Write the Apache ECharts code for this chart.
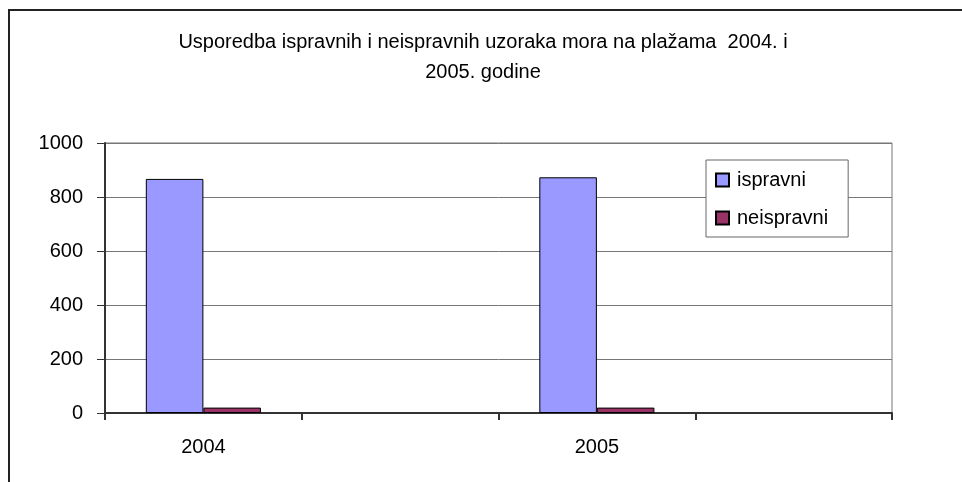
<!DOCTYPE html>
<html>
<head>
<meta charset="utf-8">
<script src="https://cdn.jsdelivr.net/npm/echarts@6/dist/echarts.min.js"></script>
<style>
  html, body { margin: 0; padding: 0; background: #fff; }
  #chart { width: 962px; height: 482px; }
</style>
</head>
<body>
<div id="chart"></div>
<script>
// podaci
var categories = ['2004', '', '2005', ''];
var ispravni = [867, '-', 873, '-'];
var neispravni = [20, '-', 20, '-'];
var yTicks = [0, 200, 400, 600, 800, 1000];

var font = 'Liberation Sans, Arial, sans-serif';
var chart = echarts.init(document.getElementById('chart'));

var option = {
  animation: false,
  backgroundColor: '#fff',
  title: {
    text: 'Usporedba ispravnih i neispravnih uzoraka mora na plažama  2004. i\n2005. godine',
    left: 478,
    textAlign: 'center',
    top: 22,
    textStyle: { fontFamily: font, fontSize: 20, fontWeight: 'normal', color: '#000', lineHeight: 30 }
  },
  legend: {
    orient: 'vertical',
    left: 706,
    top: 160,
    padding: [10, 20, 9, 9],
    backgroundColor: '#fff',
    borderColor: '#666',
    borderWidth: 1,
    borderRadius: 0,
    itemWidth: 13,
    itemHeight: 13,
    itemGap: 18,
    icon: 'rect',
    textStyle: { fontFamily: font, fontSize: 20, color: '#000', padding: [0, 0, 0, 3] },
    data: ['ispravni', 'neispravni']
  },
  grid: {
    left: 105, right: 70, top: 143, bottom: 69,
    show: true, borderColor: '#777', borderWidth: 1
  },
  xAxis: {
    type: 'category',
    data: categories,
    axisLine: { lineStyle: { color: '#333', width: 2 } },
    axisTick: { show: true, interval: 0, length: 7, lineStyle: { color: '#333', width: 2 } },
    axisLabel: { interval: 0, margin: 24, fontFamily: font, fontSize: 20, color: '#000' }
  },
  yAxis: {
    type: 'value',
    min: yTicks[0],
    max: yTicks[yTicks.length - 1],
    interval: 200,
    axisLine: { show: true, lineStyle: { color: '#333', width: 2 } },
    axisTick: { show: true, length: 8, lineStyle: { color: '#333', width: 1 } },
    axisLabel: {
      margin: 22, fontFamily: font, fontSize: 20, color: '#000',
      formatter: function (v) { return String(v); }
    },
    splitLine: { lineStyle: { color: '#777', width: 1 } }
  },
  series: [
    {
      name: 'ispravni',
      type: 'bar',
      data: ispravni,
      barGap: '0%',
      barCategoryGap: '41.5%',
      itemStyle: { color: '#9999ff', borderColor: '#000', borderWidth: 1 }
    },
    {
      name: 'neispravni',
      type: 'bar',
      data: neispravni,
      itemStyle: { color: '#993366', borderColor: '#000', borderWidth: 1 }
    }
  ],
  graphic: [
    {
      type: 'polyline',
      shape: { points: [[9, 482], [9, 10], [962, 10]] },
      style: { stroke: '#222', lineWidth: 2, fill: null }
    }
  ]
};

chart.setOption(option);
</script>
</body>
</html>
